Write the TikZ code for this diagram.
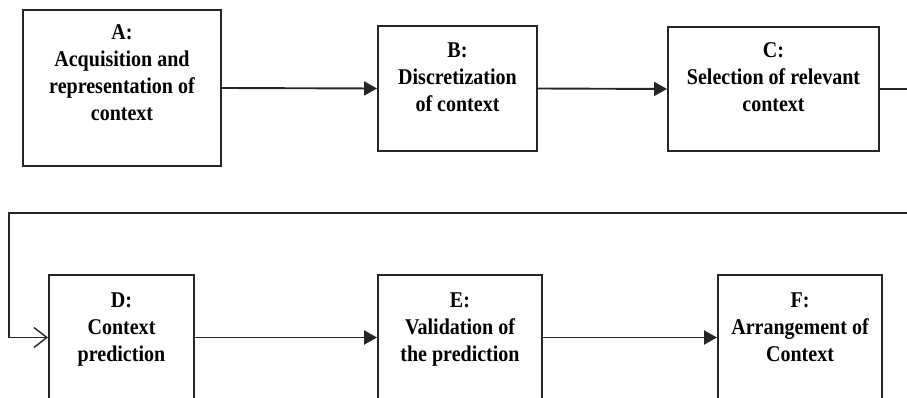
\documentclass[tikz,border=0pt]{standalone}
\usepackage{fontspec}
\setmainfont{Liberation Serif}[FakeStretch=0.89]
\usetikzlibrary{arrows.meta}
\tikzset{
  box/.style={draw=black!85, line width=1.9pt, rectangle, inner sep=0pt, minimum width=#1},
  boxtxt/.style={align=center, inner sep=0pt, anchor=base, font=\bfseries\fontsize{22.5}{27}\selectfont},
  conn/.style={draw=black!85, line width=1.9pt},
  fill arrow/.style={-{Triangle[length=13pt,width=14pt]}},
  open arrow/.style={-{Straight Barb[length=13pt,width=20pt,line width=1.4pt]}}
}
\begin{document}
\begin{tikzpicture}[x=1pt,y=-1pt]
\clip (0,0) rectangle (907,398);
% boxes
\node[box=198pt, minimum height=156pt] (A) at (122,88) {};
\node[box=159pt, minimum height=125pt] (B) at (457.5,88.5) {};
\node[box=211pt, minimum height=124pt] (C) at (773.5,89) {};
\node[box=145pt, minimum height=125pt] (D) at (121.5,337.5) {};
\node[box=164pt, minimum height=125pt] (E) at (460,337.5) {};
\node[box=164pt, minimum height=125pt] (F) at (800,337.5) {};
% texts (anchored at the baseline of their last line)
\node[boxtxt] (At) at (122,121) {A:\\Acquisition and\\representation of\\context};
\node[boxtxt] (Bt) at (457.5,112) {B:\\Discretization\\of context};
\node[boxtxt] (Ct) at (773.5,112) {C:\\Selection of relevant\\context};
\node[boxtxt] (Dt) at (121.5,361) {D:\\Context\\prediction};
\node[boxtxt] (Et) at (460,361) {E:\\Validation of\\the prediction};
\node[boxtxt] (Ft) at (800,361) {F:\\Arrangement of\\Context};
% connectors
\draw[conn, fill arrow] (A.east) -- (B.west);
\draw[conn, fill arrow] (B.east) -- (C.west);
\coordinate (r1) at (917,89);
\coordinate (r2) at (917,213);
\coordinate (l1) at (9,213);
\draw[conn, open arrow] (C.east) -- (r1) -- (r2) -- (l1) |- (D.west);
\draw[conn, fill arrow] (D.east) -- (E.west);
\draw[conn, fill arrow] (E.east) -- (F.west);
\end{tikzpicture}
\end{document}
